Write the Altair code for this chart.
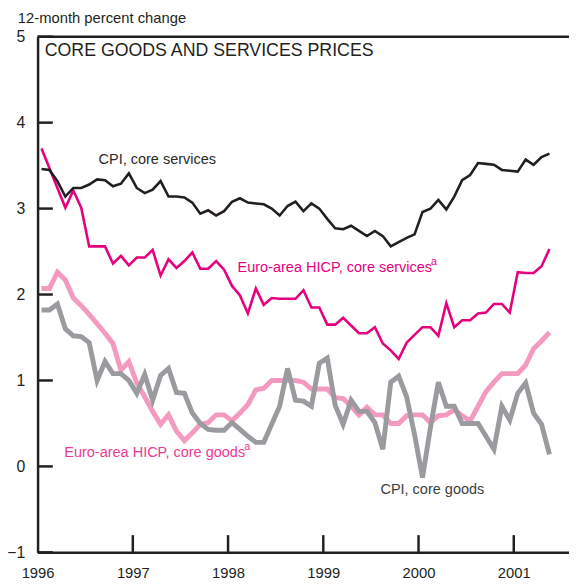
import altair as alt
import pandas as pd

# Monthly observations, Jan 1996 .. May 2001 (65 months)
cpi_services = [3.46, 3.45, 3.32, 3.14, 3.24, 3.24, 3.28, 3.34, 3.33, 3.26, 3.29, 3.41,
                3.24, 3.18, 3.22, 3.32, 3.14, 3.14, 3.13, 3.07, 2.94, 2.98, 2.92, 2.97,
                3.08, 3.12, 3.07, 3.06, 3.05, 3.00, 2.92, 3.03, 3.08, 2.97, 3.06, 3.00,
                2.88, 2.77, 2.76, 2.80, 2.74, 2.68, 2.74, 2.68, 2.56, 2.61, 2.66, 2.70,
                2.96, 3.00, 3.10, 2.99, 3.14, 3.33, 3.39, 3.53, 3.52, 3.51, 3.45, 3.44,
                3.43, 3.57, 3.51, 3.60, 3.64]
hicp_services = [3.70, 3.47, 3.24, 3.01, 3.21, 3.01, 2.56, 2.56, 2.56, 2.36, 2.45, 2.34,
                 2.43, 2.43, 2.52, 2.22, 2.41, 2.31, 2.39, 2.49, 2.30, 2.30, 2.39, 2.29,
                 2.10, 1.99, 1.78, 2.07, 1.88, 1.96, 1.95, 1.95, 1.95, 2.05, 1.85, 1.85,
                 1.65, 1.65, 1.73, 1.64, 1.55, 1.55, 1.62, 1.43, 1.35, 1.25, 1.44, 1.53,
                 1.62, 1.62, 1.52, 1.90, 1.62, 1.70, 1.70, 1.78, 1.79, 1.89, 1.89, 1.79,
                 2.26, 2.25, 2.25, 2.33, 2.53]
hicp_goods = [2.07, 2.07, 2.26, 2.17, 1.96, 1.87, 1.77, 1.66, 1.55, 1.43, 1.12, 1.22,
              0.97, 0.81, 0.64, 0.49, 0.60, 0.41, 0.30, 0.39, 0.49, 0.51, 0.60, 0.60,
              0.53, 0.62, 0.72, 0.89, 0.91, 1.00, 1.00, 1.00, 1.00, 0.98, 0.90, 0.90,
              0.90, 0.80, 0.79, 0.70, 0.60, 0.69, 0.60, 0.60, 0.50, 0.50, 0.59, 0.60,
              0.60, 0.51, 0.59, 0.60, 0.66, 0.59, 0.53, 0.70, 0.87, 0.98, 1.08, 1.08,
              1.08, 1.18, 1.37, 1.46, 1.56]
cpi_goods = [1.82, 1.82, 1.89, 1.60, 1.52, 1.51, 1.44, 1.00, 1.22, 1.08, 1.08, 1.00,
             0.85, 1.07, 0.77, 1.06, 1.14, 0.86, 0.85, 0.62, 0.50, 0.43, 0.42, 0.42,
             0.51, 0.43, 0.35, 0.28, 0.28, 0.49, 0.70, 1.14, 0.77, 0.76, 0.70, 1.20,
             1.26, 0.71, 0.49, 0.77, 0.64, 0.64, 0.51, 0.20, 0.98, 1.05, 0.81, 0.37,
             -0.13, 0.45, 0.98, 0.70, 0.70, 0.50, 0.50, 0.50, 0.35, 0.20, 0.70, 0.54,
             0.85, 0.97, 0.62, 0.49, 0.14]

years = [1996, 1997, 1998, 1999, 2000, 2001]
y_ticks = [-1, 0, 1, 2, 3, 4, 5]

labels = ["CPI, core services", "Euro-area HICP, core services",
          "Euro-area HICP, core goods", "CPI, core goods"]
label_x = [1996.64, 1998.10, 1996.28, 1999.60]
label_y = [3.57, 2.31, 0.15, -0.28]
label_colors = ["#2b2a29", "#e6007e", "#ea3a94", "#3d3d3d"]
sup_x = [2000.13, 1998.17]
sup_y = [2.38, 0.22]
sup_colors = ["#e6007e", "#ea3a94"]

panel_title = "CORE GOODS AND SERVICES PRICES"

SANS = "'Liberation Sans', Arial, sans-serif"

t = [1996 + (m + 0.5) / 12 for m in range(len(cpi_services))]


def series_df(vals):
    return pd.DataFrame({"t": t, "v": vals})


xs = alt.X("t:Q", scale=alt.Scale(domain=[1996, 2001.58], nice=False, zero=False),
           axis=alt.Axis(values=years, format="d", title=None, ticks=False, grid=False,
                         domainColor="#231f20", domainWidth=2.5, labelFontSize=15,
                         labelFont=SANS, labelColor="#231f20", labelPadding=14,
                         labelFlush=False))
ys = alt.Y("v:Q", scale=alt.Scale(domain=[-1, 5], nice=False, zero=False),
           axis=alt.Axis(values=y_ticks, format="d", title=None, ticks=False, grid=True,
                         gridColor="white", gridWidth=2.2, domainColor="#231f20",
                         domainWidth=2.5, labelFontSize=16, labelFont=SANS,
                         labelColor="#231f20", labelPadding=13,
                         labelExpr="datum.value < 0 ? '\u2212' + abs(datum.value) : datum.label"))


def line(vals, color, width):
    return alt.Chart(series_df(vals)).mark_line(color=color, strokeWidth=width,
                                                strokeJoin="miter").encode(x=xs, y=ys)


top_border = alt.Chart(pd.DataFrame({"v": [5]})).mark_rule(
    color="#231f20", strokeWidth=2.5).encode(y=alt.Y("v:Q", scale=alt.Scale(domain=[-1, 5])))

ytick_df = pd.DataFrame({"t": [1996.0] * len(y_ticks), "t2": [1996.16] * len(y_ticks), "v": y_ticks})
yticks_layer = alt.Chart(ytick_df).mark_rule(color="#231f20", strokeWidth=2.5).encode(
    x=xs, x2="t2:Q", y=ys)

xtick_df = pd.DataFrame({"t": years[1:], "v": [-1] * 5, "v2": [-0.8] * 5})
xticks_layer = alt.Chart(xtick_df).mark_rule(color="#231f20", strokeWidth=2.5).encode(
    x=xs, y=ys, y2="v2:Q")

lab_df = pd.DataFrame({"t": label_x, "v": label_y, "txt": labels, "c": label_colors})
lab_layer = alt.Chart(lab_df).mark_text(align="left", baseline="middle", fontSize=14.7,
                                        font=SANS).encode(
    x=xs, y=ys, text="txt:N", color=alt.Color("c:N", scale=None))

sup_df = pd.DataFrame({"t": sup_x, "v": sup_y, "txt": ["a", "a"], "c": sup_colors})
sup_layer = alt.Chart(sup_df).mark_text(align="left", baseline="middle", fontSize=11,
                                        font=SANS).encode(
    x=xs, y=ys, text="txt:N", color=alt.Color("c:N", scale=None))

title_df = pd.DataFrame({"t": [1996.075], "v": [4.83], "txt": [panel_title]})
title_layer = alt.Chart(title_df).mark_text(align="left", baseline="middle", fontSize=18,
                                            font=SANS, color="#231f20").encode(
    x=xs, y=ys, text="txt:N")

chart = alt.layer(
    line(hicp_goods, "#f49ac1", 5),
    line(cpi_goods, "#9a9b9e", 5),
    line(hicp_services, "#e6007e", 2.6),
    line(cpi_services, "#231f20", 2.6),
    yticks_layer, xticks_layer, top_border,
    lab_layer, sup_layer, title_layer,
).properties(
    width=539, height=523,
    title=alt.TitleParams("12-month percent change", anchor="start", frame="group",
                          dx=-20, offset=3, fontSize=15, font=SANS,
                          fontWeight="normal", color="#231f20"),
    autosize=alt.AutoSizeParams(type="none"),
    padding={"left": 30, "top": 25, "right": 0, "bottom": 29},
).configure_view(fill="#e5e6e8", stroke=None).configure(background="white")

chart.save("out.html", embed_options={"renderer": "svg", "actions": False})
